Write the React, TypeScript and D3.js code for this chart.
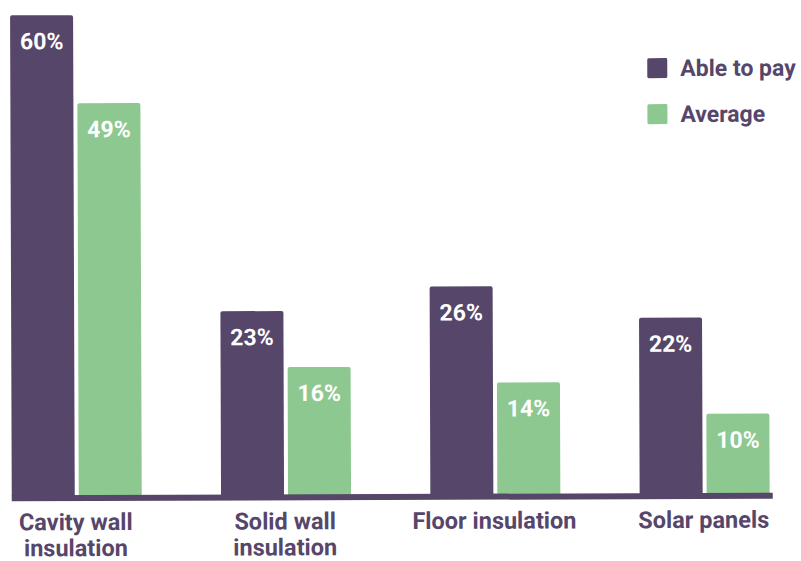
import React from "react";
import * as d3 from "d3";

const categories: string[][] = [
  ["Cavity wall", "insulation"],
  ["Solid wall", "insulation"],
  ["Floor insulation"],
  ["Solar panels"],
];
const ableToPay: number[] = [60, 23, 26, 22];
const average: number[] = [49, 16, 14, 10];
const seriesNames: string[] = ["Able to pay", "Average"];

const PURPLE = "#56466a";
const GREEN = "#8dc890";
const W = 801;
const H = 561;

export default function App() {
  const baseY = 495;
  const x = d3
    .scaleBand<number>()
    .domain(d3.range(categories.length))
    .range([11, 11 + 4 * 209.3])
    .paddingInner(0)
    .paddingOuter(0);
  const barW = 63;
  const gap = 4;
  const groupW = barW * 2 + gap;
  const y = d3.scaleLinear().domain([0, 60]).range([baseY, 14]);
  const series = [ableToPay, average];
  const colors = [PURPLE, GREEN];
  const font = "Roboto, 'Noto Sans', sans-serif";

  return (
    <svg
      width={W}
      height={H}
      style={{ position: "absolute", left: 0, top: 0, background: "#fff" }}
      fontFamily={font}
    >
      <rect width={W} height={H} fill="#fff" />
      <g transform={`rotate(-0.2 ${W / 2} ${H / 2})`}>
        {categories.map((cat, i) => {
          const gx = x(i)!;
          return (
            <g key={i}>
              {series.map((s, j) => {
                const bx = gx + j * (barW + gap);
                const top = y(s[i]);
                return (
                  <g key={j}>
                    <path
                      d={`M${bx},${baseY} V${top + 2} Q${bx},${top} ${bx + 2},${top} H${bx + barW - 2} Q${bx + barW},${top} ${bx + barW},${top + 2} V${baseY} Z`}
                      fill={colors[j]}
                    />
                    <text
                      x={bx + barW / 2}
                      y={top + 34}
                      textAnchor="middle"
                      fill="#fff"
                      fontWeight={700}
                      fontSize={23}
                    >
                      {s[i]}%
                    </text>
                  </g>
                );
              })}
              {cat.map((line, k) => (
                <text
                  key={k}
                  x={gx + groupW / 2 - 1}
                  y={529 + k * 26}
                  textAnchor="middle"
                  fill={PURPLE}
                  fontWeight={700}
                  fontSize={23.5}
                >
                  {line}
                </text>
              ))}
            </g>
          );
        })}
        <rect x={11} y={baseY - 1} width={761} height={6} fill={PURPLE} />
        {seriesNames.map((n, j) => (
          <g key={n}>
            <rect
              x={648}
              y={59 + j * 46}
              width={20}
              height={20}
              rx={1.5}
              fill={colors[j]}
            />
            <text
              x={681}
              y={77 + j * 46}
              fill={PURPLE}
              fontWeight={700}
              fontSize={23}
            >
              {n}
            </text>
          </g>
        ))}
      </g>
    </svg>
  );
}
